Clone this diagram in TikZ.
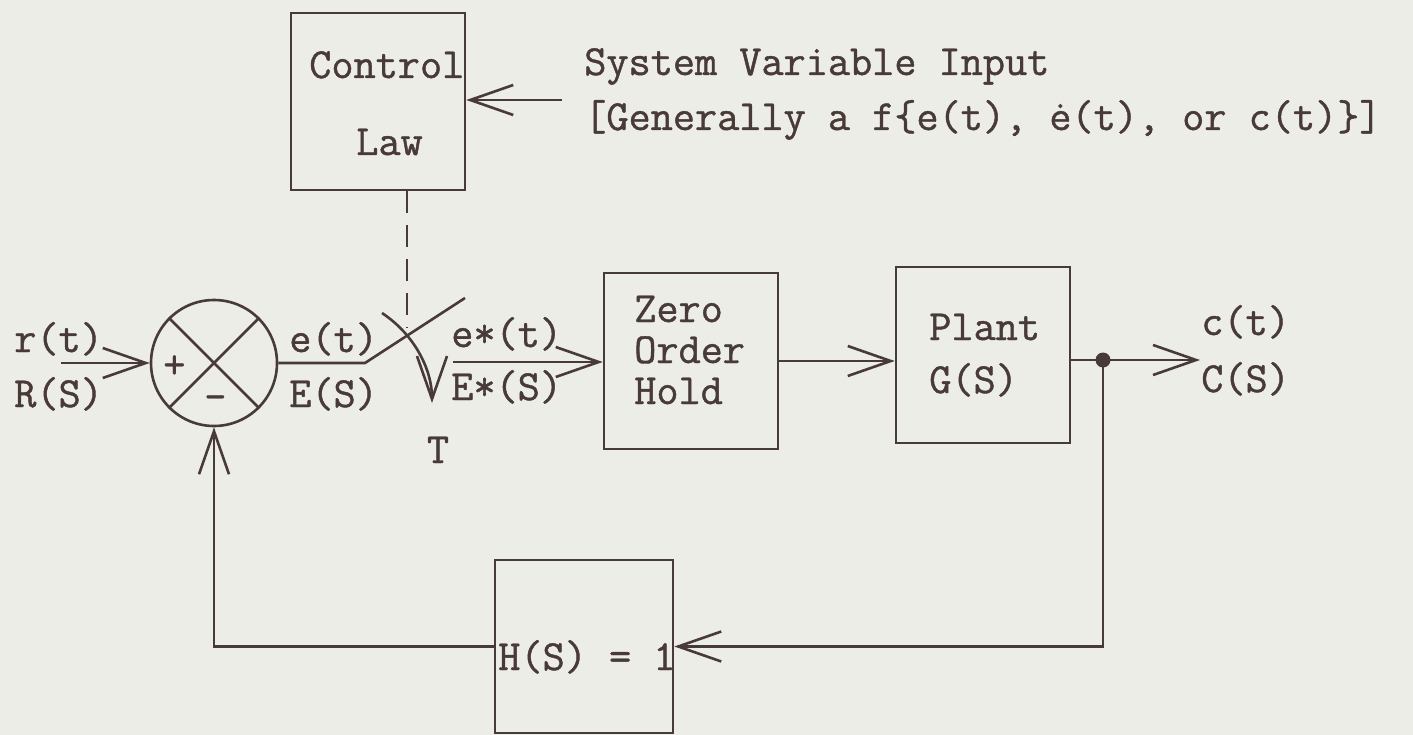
\documentclass[tikz,border=0pt]{standalone}
\usepackage{fontspec}
\setmonofont{Latin Modern Mono}[FakeBold=1]
\usepackage{tikz}
\usetikzlibrary{arrows.meta,positioning}
\definecolor{ink}{RGB}{72,58,55}
\definecolor{paper}{RGB}{237,237,231}

\begin{document}
\begin{tikzpicture}[x=1pt,y=-1pt,line width=2.6pt,
    >={Straight Barb[length=43pt,width=30pt]},
    block/.style={draw=ink,minimum width=174pt,minimum height=176pt,inner sep=0pt},
    lbl/.style={ink,anchor=base west,inner sep=0pt,font=\fontsize{43}{50}\selectfont\ttfamily}]
  \fill[paper] (0,0) rectangle (1413,735);
  \useasboundingbox (0,0) rectangle (1413,735);
  \begin{scope}[draw=ink,color=ink]
  % blocks
  \node[block,minimum height=177pt] (ctrl) at (378,101.5) {};
  \node[block] (zoh) at (691,361) {};
  \node[block] (plant) at (983,355) {};
  \node[block,minimum width=178pt,minimum height=173pt] (hbox) at (584,646.5) {};
  \node[draw=ink,circle,minimum size=126pt,inner sep=0pt] (sum) at (214,363) {};
  \draw (sum.north west) -- (sum.south east);
  \draw (sum.north east) -- (sum.south west);
  % texts
  \node[lbl] (tctrl) at (308,78) {Control};
  \node[lbl] (tlaw) at (355,155) {Law};
  \node[lbl] (tsys) at (583,75) {System Variable Input};
  \node[lbl] (tgen) at (583,130) {[Generally a f\{e(t), \.e(t), or c(t)\}]};
  \node[lbl] (tr) at (13,352) {r(t)};
  \node[lbl] (tR) at (13,407) {R(S)};
  \node[lbl] (tplus) at (162,378) {+};
  \node[lbl] (tminus) at (203,410) {\textendash};
  \node[lbl] (te) at (288,352) {e(t)};
  \node[lbl] (tE) at (288,407) {E(S)};
  \node[lbl] (tes) at (450,347) {e*(t)};
  \node[lbl] (tEs) at (450,400) {E*(S)};
  \node[lbl,anchor=base] (tT) at (438,463) {T};
  \node[lbl,text depth=0pt,text height=26pt] (tzero) at (633,322) {Zero};
  \node[lbl,text depth=0pt,text height=26pt] (torder) at (633,363) {Order};
  \node[lbl,text depth=0pt,text height=26pt] (thold) at (633,404) {Hold};
  \node[lbl] (tplant) at (928,340) {Plant};
  \node[lbl] (tG) at (928,393) {G(S)};
  \node[lbl] (tc) at (1200,335) {c(t)};
  \node[lbl] (tC) at (1200,392) {C(S)};
  \node[lbl] (tH) at (497,670) {H(S) = 1};
  % connectors
  \coordinate (rin) at (61,363);
  \coordinate (sysin) at (562,100);
  \coordinate (sw) at (365,363);
  \coordinate (swtop) at (465,298);
  \coordinate (lnk) at (407,328);
  \coordinate (cst) at (382,313);
  \coordinate (cend) at (432,403);
  \coordinate (smp) at (453,362);
  \coordinate (tap) at (1103,360);
  \coordinate (out) at (1200,360);
  \draw[->] (rin) -- (sum.west);
  \draw[->] (sysin) -- (sysin -| ctrl.east);
  \draw (sum.east) -- (sw) -- (swtop);
  \draw[dashed,dash pattern=on 22pt off 12pt] (lnk |- ctrl.south) -- (lnk);
  \draw[->] (cst) .. controls (415,335) and (432,370) .. (cend);
  \draw[->] (smp) -- (smp -| zoh.west);
  \draw[->] (zoh.east) -- (zoh.east -| plant.west);
  \draw[->] (tap -| plant.east) -- (out);
  \fill (tap) circle (7.5);
  \draw[->] (tap) |- (hbox.east);
  \draw[->] (hbox.west) -| (sum.south);
  \end{scope}
\end{tikzpicture}
\end{document}
